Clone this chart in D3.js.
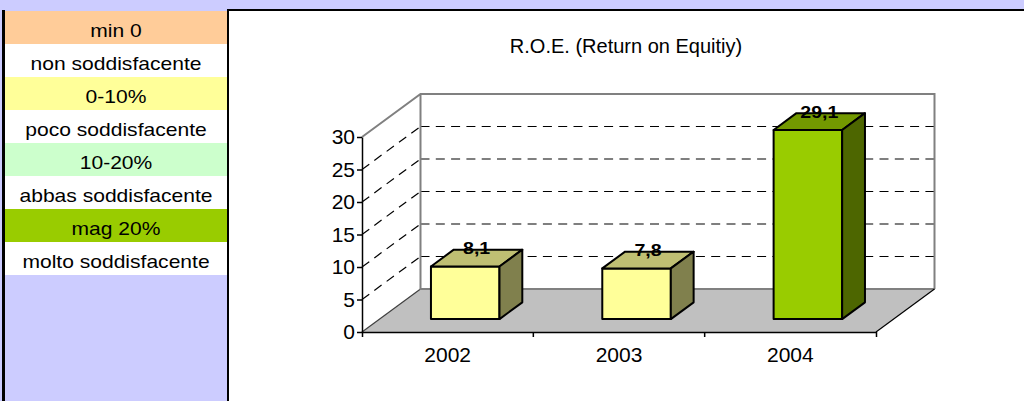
<!DOCTYPE html>
<html>
<head>
<meta charset="utf-8">
<script src="https://cdn.jsdelivr.net/npm/d3@7"></script>
<style>
  html, body { margin: 0; padding: 0; background: #CCCCFF; }
  svg { display: block; }
  text { font-family: "Liberation Sans", Arial, sans-serif; }
</style>
</head>
<body>
<svg id="chart" width="1024" height="401"></svg>
<script>
/* dati */
const years = ["2002", "2003", "2004"];
const roe = [8.1, 7.8, 29.1];
const barColors = ["#FFFF99", "#FFFF99", "#99CC00"];
const yTicks = [0, 5, 10, 15, 20, 25, 30];
const gridValues = [5, 10, 15, 20, 25];
const legendLabels = ["min 0", "non soddisfacente", "0-10%", "poco soddisfacente",
                      "10-20%", "abbas soddisfacente", "mag 20%", "molto soddisfacente"];
const legendColors = ["#FFCC99", "#FFFFFF", "#FFFF99", "#FFFFFF",
                      "#CCFFCC", "#FFFFFF", "#99CC00", "#FFFFFF"];
const title = "R.O.E. (Return on Equitiy)";

const svg = d3.select("#chart");

// profondità 3D
let DX = 58.5, DY = 43;
let f0 = 0.30, f1 = 0.69;

let x = d3.scaleBand().domain(years).range([362, 876]);
let y = d3.scaleLinear().domain([0, 30]).range([332, 137]);

function P(px, v, f) { return [px + f * DX, y(v) - f * DY]; }
function poly(pts) { return "M" + pts.map(p => p.join(",")).join("L") + "Z"; }

let it = d3.formatLocale({decimal: ",", thousands: ".", grouping: [3], currency: ["", "€"]}).format(".1f");

/* legenda a sinistra */
svg.append("rect").attr("x", 2).attr("y", 10).attr("width", 3).attr("height", 391).attr("fill", "#000");

const leg = svg.append("g");
leg.selectAll("rect")
    .data(legendLabels)
  .enter().append("rect")
    .attr("x", 5)
    .attr("y", (d, i) => 11 + i * 33)
    .attr("width", 222)
    .attr("height", 33)
    .attr("fill", (d, i) => legendColors[i]);
leg.selectAll("text")
    .data(legendLabels)
  .enter().append("text")
    .attr("transform", (d, i) => "translate(116," + (37 + i * 33) + ") scale(1.17,1)")
    .attr("text-anchor", "middle")
    .attr("font-size", 18)
    .attr("fill", "#000")
    .text(d => d);

/* pannello grafico */
svg.append("rect").attr("x", 227).attr("y", 9).attr("width", 797).attr("height", 392).attr("fill", "#fff");
svg.append("rect").attr("x", 227).attr("y", 9).attr("width", 2).attr("height", 392).attr("fill", "#000");
svg.append("rect").attr("x", 227).attr("y", 9).attr("width", 797).attr("height", 2).attr("fill", "#000");

svg.append("text")
    .attr("x", 626).attr("y", 53)
    .attr("text-anchor", "middle")
    .attr("font-size", 20)
    .text(title);

let x0 = x.range()[0], x1 = x.range()[1];

// pavimento
svg.append("path")
    .attr("d", poly([P(x0, 0, 0), P(x0, 0, 1), P(x1, 0, 1), P(x1, 0, 0)]))
    .attr("fill", "#C0C0C0");

// griglia tratteggiata: parete di fondo
svg.append("g").selectAll("line")
    .data(gridValues)
  .enter().append("line")
    .attr("x1", d => P(x0, d, 1)[0]).attr("y1", d => P(x0, d, 1)[1])
    .attr("x2", d => P(x1, d, 1)[0]).attr("y2", d => P(x1, d, 1)[1])
    .attr("stroke", "#000").attr("stroke-width", 1.2)
    .attr("stroke-dasharray", "9,6.3");
// griglia tratteggiata: parete laterale
svg.append("g").selectAll("line")
    .data(gridValues.concat([0]))
  .enter().append("line")
    .attr("x1", d => P(x0, d, 0)[0]).attr("y1", d => P(x0, d, 0)[1])
    .attr("x2", d => P(x0, d, 1)[0]).attr("y2", d => P(x0, d, 1)[1])
    .attr("stroke", d => d === 0 ? "#404040" : "#000").attr("stroke-width", 1.2)
    .attr("stroke-dasharray", d => d === 0 ? null : "9,6.3");

// bordi delle pareti (grigio)
let yTop = 30;
svg.append("path")
    .attr("d", "M" + P(x0, yTop, 0) + "L" + P(x0, yTop, 1) + "L" + P(x1, yTop, 1) + "L" + P(x1, 0, 1)
              + "M" + P(x0, yTop, 1) + "L" + P(x0, 0, 1) + "L" + P(x1, 0, 1))
    .attr("fill", "none").attr("stroke", "#808080").attr("stroke-width", 2);
svg.append("line")
    .attr("x1", P(x1, 0, 0)[0]).attr("y1", P(x1, 0, 0)[1])
    .attr("x2", P(x1, 0, 1)[0]).attr("y2", P(x1, 0, 1)[1])
    .attr("stroke", "#000").attr("stroke-width", 1.2);

// barre 3D
let bw = x.bandwidth(), barW = bw / 2.5;
let bars = svg.append("g").selectAll("g")
    .data(years)
  .enter().append("g");

bars.each(function(d, i) {
    let g = d3.select(this);
    let a = x(d) + (bw - barW) / 2, b = a + barW, v = roe[i];
    let c = d3.rgb(barColors[i]);
    let darker = k => d3.rgb(c.r * k, c.g * k, c.b * k).toString();
    g.append("path")
        .attr("d", poly([P(a, 0, f0), P(b, 0, f0), P(b, v, f0), P(a, v, f0)]))
        .attr("fill", c.toString());
    g.append("path")
        .attr("d", poly([P(a, v, f0), P(b, v, f0), P(b, v, f1), P(a, v, f1)]))
        .attr("fill", darker(0.75));
    g.append("path")
        .attr("d", poly([P(b, 0, f0), P(b, 0, f1), P(b, v, f1), P(b, v, f0)]))
        .attr("fill", darker(0.5));
    g.selectAll("path").attr("stroke", "#000").attr("stroke-width", 2).attr("stroke-linejoin", "round");

    let m = (f0 + f1) / 2;
    let lp = P((a + b) / 2, v, m);
    g.append("text")
        .attr("transform", "translate(" + lp[0] + "," + (lp[1] - 4) + ") scale(1.15,1)")
        .attr("text-anchor", "middle")
        .attr("font-size", 17)
        .attr("font-weight", "bold")
        .text(it(v));
});

/* assi */
let yAxis = svg.append("g")
    .attr("transform", "translate(362,0)")
    .call(d3.axisLeft(y).tickValues(yTicks).tickSize(5).tickSizeOuter(0).tickPadding(2));
yAxis.selectAll("text").attr("font-size", 21).attr("font-family", "Liberation Sans, Arial, sans-serif").attr("fill", "#000");
yAxis.selectAll("line, path").attr("stroke", "#000").attr("stroke-width", 1.5);

let xAxis = svg.append("g")
    .attr("transform", "translate(0,332)")
    .call(d3.axisBottom(x).tickSize(0).tickSizeOuter(5).tickPadding(15.5));
xAxis.selectAll("text").attr("font-size", 21).attr("font-family", "Liberation Sans, Arial, sans-serif").attr("fill", "#000");
xAxis.select(".domain").attr("stroke", "#000").attr("stroke-width", 1.5);
xAxis.selectAll(".sep")
    .data(years.slice(1))
  .enter().append("line")
    .attr("class", "sep")
    .attr("x1", d => x(d)).attr("x2", d => x(d))
    .attr("y1", 0).attr("y2", 5)
    .attr("stroke", "#000").attr("stroke-width", 1.5);
</script>
</body>
</html>
